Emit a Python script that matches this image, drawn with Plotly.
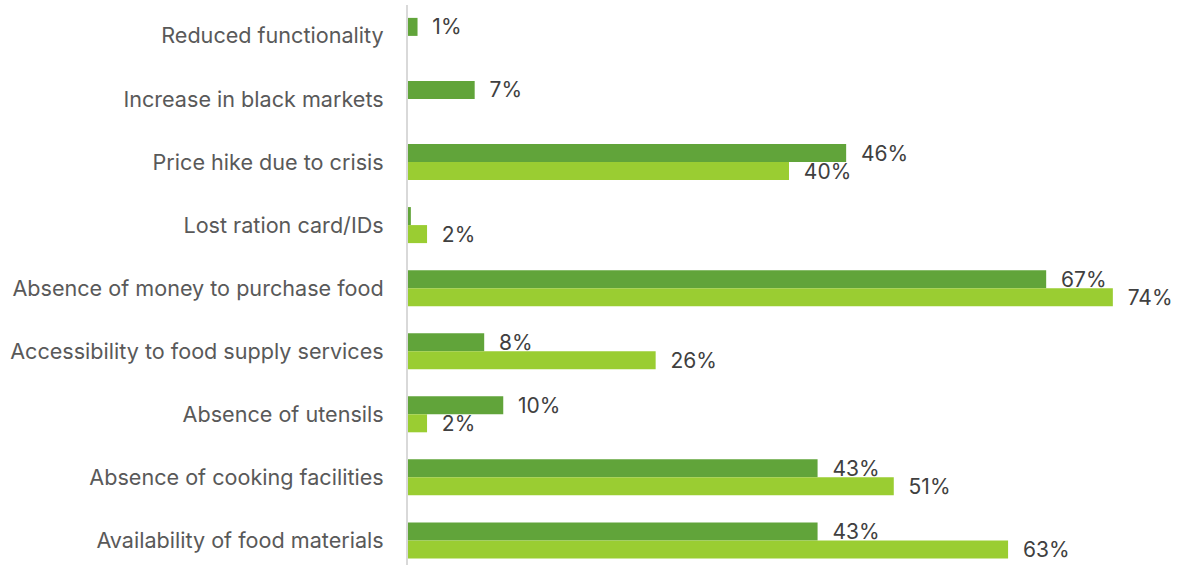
import plotly.graph_objects as go

categories = [
    "Reduced functionality",
    "Increase in black markets",
    "Price hike due to crisis",
    "Lost ration card/IDs",
    "Absence of money to purchase food",
    "Accessibility to food supply services",
    "Absence of utensils",
    "Absence of cooking facilities",
    "Availability of food materials",
]
series_a = [1, 7, 46, 0.3, 67, 8, 10, 43, 43]
labels_a = ["1%", "7%", "46%", "", "67%", "8%", "10%", "43%", "43%"]
series_b = [None, None, 40, 2, 74, 26, 2, 51, 63]
labels_b = ["", "", "40%", "2%", "74%", "26%", "2%", "51%", "63%"]

PAD = "\u00a0\u00a0"
FONT = "Inter, Open Sans, sans-serif"

fig = go.Figure()
fig.add_trace(go.Bar(
    y=categories, x=series_a, orientation="h",
    marker=dict(color="#61a43a", line=dict(width=0)),
    text=[PAD + t if t else "" for t in labels_a],
    textposition="outside", cliponaxis=False,
    textfont=dict(size=21, color="#404040", family=FONT),
    constraintext="none", hoverinfo="skip",
))
fig.add_trace(go.Bar(
    y=categories, x=series_b, orientation="h",
    marker=dict(color="#9acd32", line=dict(width=0)),
    text=[PAD + t if t else "" for t in labels_b],
    textposition="outside", cliponaxis=False,
    textfont=dict(size=21, color="#404040", family=FONT),
    constraintext="none", hoverinfo="skip",
))

fig.update_layout(
    width=1179, height=565,
    margin=dict(l=408, r=9, t=5, b=0),
    barmode="group", bargap=0.4286, bargroupgap=0,
    showlegend=False,
    plot_bgcolor="white", paper_bgcolor="white",
    uniformtext=dict(mode=False),
)
fig.update_xaxes(range=[0, 80], visible=False, showgrid=False, zeroline=False)
fig.update_yaxes(
    range=[8.39, -0.49], showgrid=False, zeroline=False,
    showline=True, linecolor="#d9d9d9", linewidth=2,
    ticks="", ticklabelstandoff=18,
    tickfont=dict(size=21.6, color="#595959", family=FONT),
)

fig.write_html("out.html")
